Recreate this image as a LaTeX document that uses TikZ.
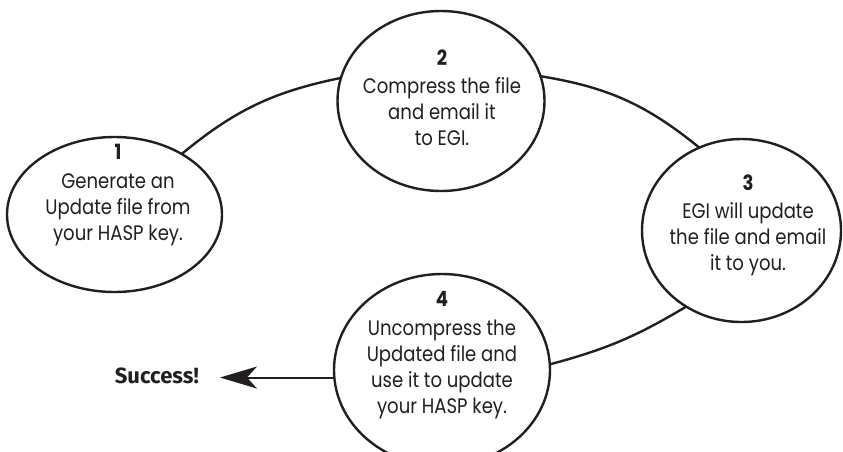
\documentclass[tikz,border=0pt]{standalone}
\usepackage{fontspec}
\setmainfont{Poppins}[FakeStretch=0.86]
\newfontfamily\succfont{Fira Sans}
\usetikzlibrary{arrows.meta,shapes.geometric}
\definecolor{ink}{RGB}{35,31,32}
\begin{document}
\begin{tikzpicture}[x=1pt,y=-1pt,
  stage/.style={draw=ink, line width=2.4pt, ellipse, fill=white, inner sep=0pt, outer sep=0pt},
  stagetext/.style={align=center, font=\fontsize{21}{26}\selectfont, text=ink, inner sep=0pt},
  cycleline/.style={draw=ink, line width=2.4pt},
  arr/.style={draw=ink, line width=2pt, -{Stealth[length=37pt,width=22pt,inset=10pt]}}
]
\useasboundingbox (0,0) rectangle (843,451);

\node[stage, minimum width=215pt, minimum height=155pt] (e1) at (114.5,214.5) {};
\node[stage, minimum width=207pt, minimum height=180pt] (e2) at (441,101) {};
\node[stage, minimum width=199pt, minimum height=183pt] (e3) at (741.5,230.5) {};
\node[stage, minimum width=216pt, minimum height=192pt] (e4) at (442,370) {};

\node[stagetext] (t1) at (118,195) {\textbf{1}\\[3pt]Generate an\\Update file from\\your HASP key.};
\node[stagetext] (t2) at (442,98) {\textbf{2}\\[2pt]Compress the file\\and email it\\to EGI.};
\node[stagetext] (t3) at (748,225) {\textbf{3}\\[2pt]EGI will update\\the file and email\\it to you.};
\node[stagetext] (t4) at (442,355) {\textbf{4}\\[3pt]Uncompress the\\Updated file and\\use it to update\\your HASP key.};

\draw[cycleline] (e1.42) to[bend left=14] (e2.167);
\draw[cycleline] (e2.14) to[bend left=15] (e3.117);
\draw[cycleline] (e3.234) to[bend left=8] (e4.3);

\node[anchor=east, inner sep=0pt, text=ink, font=\succfont\bfseries\fontsize{22}{24}\selectfont] (succ) at (199,376) {Success!};
\draw[arr, shorten >=21pt] (e4.184) -- (succ.east |- e4.184);
\end{tikzpicture}
\end{document}
